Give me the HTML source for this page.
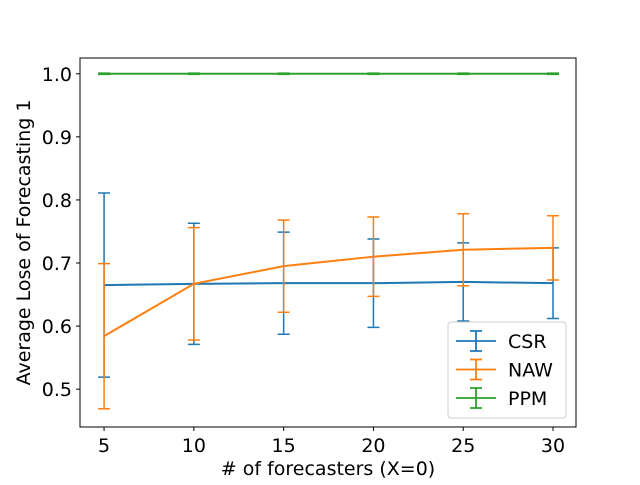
<!DOCTYPE html>
<html><head><meta charset="utf-8"><style>
body{margin:0;background:#fff}
svg text{font-family:"DejaVu Sans","Liberation Sans",sans-serif;fill:#000}
</style></head><body>
<svg id="chart" width="640" height="480" xmlns="http://www.w3.org/2000/svg"></svg>
<script>
const xCats=[5,10,15,20,25,30];
const csrMean=[0.665,0.667,0.668,0.668,0.670,0.668];
const csrErr=[0.146,0.096,0.081,0.070,0.062,0.056];
const nawMean=[0.584,0.667,0.695,0.710,0.721,0.724];
const nawErr=[0.115,0.089,0.073,0.063,0.057,0.051];
const ppmMean=[1.0,1.0,1.0,1.0,1.0,1.0];
const ppmErr=[0.001,0.001,0.001,0.001,0.001,0.001];
const yTicks=[0.5,0.6,0.7,0.8,0.9,1.0];
const xTicks=[5,10,15,20,25,30];
const seriesNames=["CSR","NAW","PPM"];

const L=80,R=576,T=58,B=427;
const xMin=3.66,xMax=31.28,yMin=0.44,yMax=1.025;
const sx=v=>L+(v-xMin)/(xMax-xMin)*(R-L);
const sy=v=>B-(v-yMin)/(yMax-yMin)*(B-T);
const svg=document.getElementById('chart');
const NS="http://www.w3.org/2000/svg";
function mk(tag,attrs,parent){const e=document.createElementNS(NS,tag);for(const k in attrs)e.setAttribute(k,attrs[k]);(parent||svg).appendChild(e);return e;}

const colors=["#1f77b4","#ff7f0e","#2ca02c"];
const means=[csrMean,nawMean,ppmMean], errs=[csrErr,nawErr,ppmErr];
means.forEach((m,s)=>{
  const g=mk('g',{});
  
  
  const pts=xCats.map((x,i)=>sx(x)+','+sy(m[i])).join(' ');
  const pl=mk('polyline',{points:pts,fill:'none',stroke:colors[s],'stroke-width':2},g);
  
  
  xCats.forEach((x,i)=>{
    const X=sx(x),y1=sy(m[i]+errs[s][i]),y2=sy(m[i]-errs[s][i]);
    const eb=mk('path',{d:`M${X},${y1}V${y2}M${X-6},${y1}H${X+6}M${X-6},${y2}H${X+6}`,stroke:colors[s],'stroke-width':1.5,fill:'none'},g);
    
    
  });
});

const frame=mk('rect',{x:L,y:T,width:R-L,height:B-T,fill:'none',stroke:'#000','stroke-width':1});



yTicks.forEach(v=>{
  const y=sy(v);
  mk('line',{x1:L-4,x2:L,y1:y,y2:y,stroke:'#000'});
  const t=mk('text',{x:L-8,y:y+7,'text-anchor':'end','font-size':19});
  t.textContent=v.toFixed(1);
  
  
});
xTicks.forEach(v=>{
  const x=sx(v);
  mk('line',{x1:x,x2:x,y1:B,y2:B+4,stroke:'#000'});
  const t=mk('text',{x:x,y:B+25,'text-anchor':'middle','font-size':19});
  t.textContent=v;
  
  
});
const xt=mk('text',{x:(L+R)/2,y:475,'text-anchor':'middle','font-size':19});
xt.textContent='# of forecasters (X=0)';


const yt=mk('text',{x:0,y:0,'text-anchor':'middle','font-size':19,transform:`translate(30,${(T+B)/2}) rotate(-90)`});
yt.textContent='Average Lose of Forecasting 1';



const lg=mk('g',{});


mk('rect',{x:448,y:322,width:118,height:96,rx:3,fill:'#fff','fill-opacity':0.8,stroke:'#ccc'},lg);
seriesNames.forEach((n,i)=>{
  const y=341+i*28.5;
  const e=mk('g',{},lg);
  
  
  mk('path',{d:`M456,${y}H496M476,${y-10}V${y+10}M470,${y-10}H482M470,${y+10}H482`,stroke:colors[i],'stroke-width':1.8,fill:'none'},e);
  const t=mk('text',{x:508,y:y+7,'font-size':19},e);
  t.textContent=n;
});
</script>
</body></html>
